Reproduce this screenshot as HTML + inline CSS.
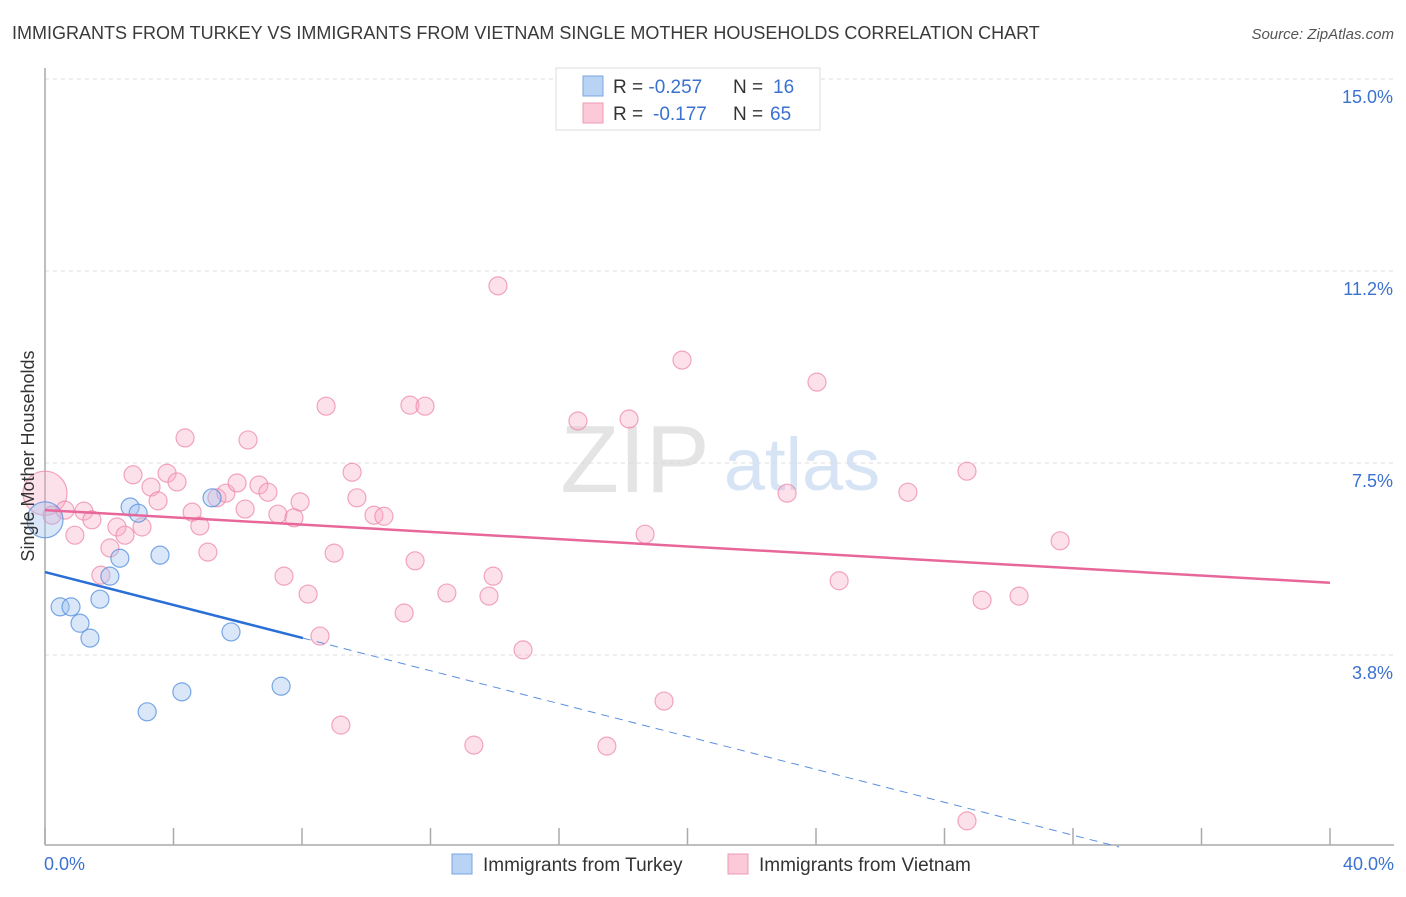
<!DOCTYPE html>
<html><head><meta charset="utf-8">
<style>
body{margin:0;background:#fff;font-family:"Liberation Sans",sans-serif;}
svg text{font-family:"Liberation Sans",sans-serif;}
</style></head>
<body>
<svg id="chart" width="1406" height="892" xmlns="http://www.w3.org/2000/svg">
<text x="12" y="39" font-size="18" fill="#3a3a3a">IMMIGRANTS FROM TURKEY VS IMMIGRANTS FROM VIETNAM SINGLE MOTHER HOUSEHOLDS CORRELATION CHART</text>
<text x="1394" y="39" font-size="15" fill="#555" font-style="italic" text-anchor="end">Source: ZipAtlas.com</text>
<g>
<text x="635" y="492" font-size="96" fill="#e4e4e4" font-family="Liberation Serif" text-anchor="middle">ZIP</text>
<text x="802" y="490" font-size="74" fill="#d6e4f5" text-anchor="middle">atlas</text>
</g>
<g id="grid"></g>
<g id="axes"></g>
<g id="marks"></g>
<text transform="translate(34,456) rotate(-90)" font-size="18" fill="#333" text-anchor="middle">Single Mother Households</text>
<g>
<rect x="556" y="68" width="264" height="62" fill="#fff" stroke="#ddd"/>
<rect x="583" y="76" width="20" height="20" fill="#b9d3f5" stroke="#7aa6e0"/>
<rect x="583" y="103" width="20" height="20" fill="#fcc9d8" stroke="#ee9bb5"/>
<text x="613" y="93" font-size="19" fill="#333">R = <tspan fill="#3b72d0">-0.257</tspan><tspan x="733">N = </tspan><tspan fill="#3b72d0" x="773">16</tspan></text>
<text x="613" y="120" font-size="19" fill="#333">R = <tspan fill="#3b72d0" x="653">-0.177</tspan><tspan x="733">N = </tspan><tspan fill="#3b72d0" x="770">65</tspan></text>
</g>
<g>
<rect x="452" y="854" width="20" height="20" fill="#b9d3f5" stroke="#7aa6e0"/>
<text x="483" y="871" font-size="19" fill="#333">Immigrants from Turkey</text>
<rect x="728" y="854" width="20" height="20" fill="#fcc9d8" stroke="#ee9bb5"/>
<text x="759" y="871" font-size="19" fill="#333">Immigrants from Vietnam</text>
</g>
</svg>
<script>
const yTicks=[15.0,11.2,7.5,3.8];
const yTickVals=[15.0,11.25,7.5,3.75];
const xTickLabels=["0.0%","40.0%"];
const turkeyX=[0,0.47,0.81,1.09,1.40,1.71,2.02,2.33,2.65,2.90,3.18,3.58,4.26,5.20,5.79,7.35];
const turkeyY=[6.39,4.69,4.69,4.37,4.08,4.84,5.29,5.64,6.64,6.52,2.64,5.70,3.03,6.82,4.20,3.14];
const turkeyR=[18,9,9,9,9,9,9,9,9,9,9,9,9,9,9,9];
const vietX=[0,0.22,0.62,0.93,1.21,1.46,1.74,2.02,2.24,2.49,2.74,3.02,3.30,3.52,3.80,4.11,4.36,4.58,4.82,5.07,5.35,5.63,5.98,6.23,6.32,6.66,6.94,7.25,7.44,7.75,7.94,8.19,8.56,8.75,9.00,9.21,9.56,9.71,10.24,10.55,11.18,11.36,11.52,11.83,12.51,13.35,13.82,13.95,14.10,14.88,16.59,17.49,18.18,18.68,19.27,19.83,23.10,24.03,24.72,26.86,28.70,28.70,29.17,30.32,31.60];
const vietY=[6.91,6.48,6.58,6.09,6.56,6.39,5.31,5.84,6.25,6.09,7.27,6.25,7.03,6.76,7.30,7.13,7.99,6.54,6.27,5.76,6.82,6.91,7.11,6.60,7.95,7.07,6.93,6.50,5.29,6.43,6.74,4.94,4.12,8.61,5.74,2.38,7.32,6.82,6.48,6.46,4.57,8.63,5.59,8.61,4.96,1.99,4.90,5.29,10.96,3.85,8.32,1.97,8.36,6.11,2.85,9.51,6.91,9.08,5.20,6.93,7.34,0.51,4.82,4.90,5.98];
const turkeyTrend=[5.37,-0.1606];
const vietTrend=[6.58,-0.0355];
const NS="http://www.w3.org/2000/svg";
const X0=45,X1=1330,Y0=847,Ytop=79;
const xs=v=>X0+v/40*(X1-X0);
const ys=v=>Y0-v/15*(Y0-Ytop);
function mk(t,a,p){const e=document.createElementNS(NS,t);for(const k in a)e.setAttribute(k,a[k]);p.appendChild(e);return e;}
const grid=document.getElementById('grid'),axes=document.getElementById('axes'),marks=document.getElementById('marks');
yTickVals.forEach((v,i)=>{
 const l=mk('line',{x1:X0,x2:1394,y1:ys(v),y2:ys(v),stroke:'#dcdcdc','stroke-dasharray':'4,4'},grid);
 
 
 const t=mk('text',{x:1393,y:ys(v)+24,'font-size':18,fill:'#3b72d0','text-anchor':'end'},axes);
 t.textContent=yTicks[i].toFixed(1)+'%';
 
 
});
const ya=mk('line',{x1:X0,x2:X0,y1:68,y2:845,stroke:'#aaa','stroke-width':1.5},axes);


const xa=mk('line',{x1:X0,x2:1394,y1:845,y2:845,stroke:'#aaa','stroke-width':1.5},axes);


for(let i=0;i<=10;i++){const tk=mk('line',{x1:xs(i*4),x2:xs(i*4),y1:828,y2:845,stroke:'#aaa','stroke-width':1.5},axes);
 
 }
[[0,'start',44],[40,'end',1394]].forEach((d,i)=>{const t=mk('text',{x:d[2],y:870,'font-size':18,fill:'#3b72d0','text-anchor':d[1]},axes);t.textContent=xTickLabels[i];
 
 });
vietX.forEach((x,i)=>{const c=mk('circle',{cx:xs(x),cy:ys(vietY[i]),r:i==0?22:9,fill:'rgba(248,170,195,0.35)',stroke:'rgba(236,130,165,0.7)','stroke-width':1.2},marks);
 
 });
turkeyX.forEach((x,i)=>{const c=mk('circle',{cx:xs(x),cy:ys(turkeyY[i]),r:turkeyR[i],fill:'rgba(160,195,240,0.4)',stroke:'rgba(80,140,220,0.75)','stroke-width':1.2},marks);
 
 });
const vt=mk('line',{x1:xs(0),y1:ys(vietTrend[0]),x2:xs(40),y2:ys(vietTrend[0]+vietTrend[1]*40),stroke:'#e8679a','stroke-width':2.5},marks);


const tEnd=8.03,tZero=-turkeyTrend[0]/turkeyTrend[1];
const tt=mk('line',{x1:xs(0),y1:ys(turkeyTrend[0]),x2:xs(tEnd),y2:ys(turkeyTrend[0]+turkeyTrend[1]*tEnd),stroke:'#2a6fd6','stroke-width':2.5},marks);


const td=mk('line',{x1:xs(tEnd),y1:ys(turkeyTrend[0]+turkeyTrend[1]*tEnd),x2:xs(tZero),y2:ys(0),stroke:'#5a8fe0','stroke-width':1,'stroke-dasharray':'8,6'},marks);


</script>
</body></html>
